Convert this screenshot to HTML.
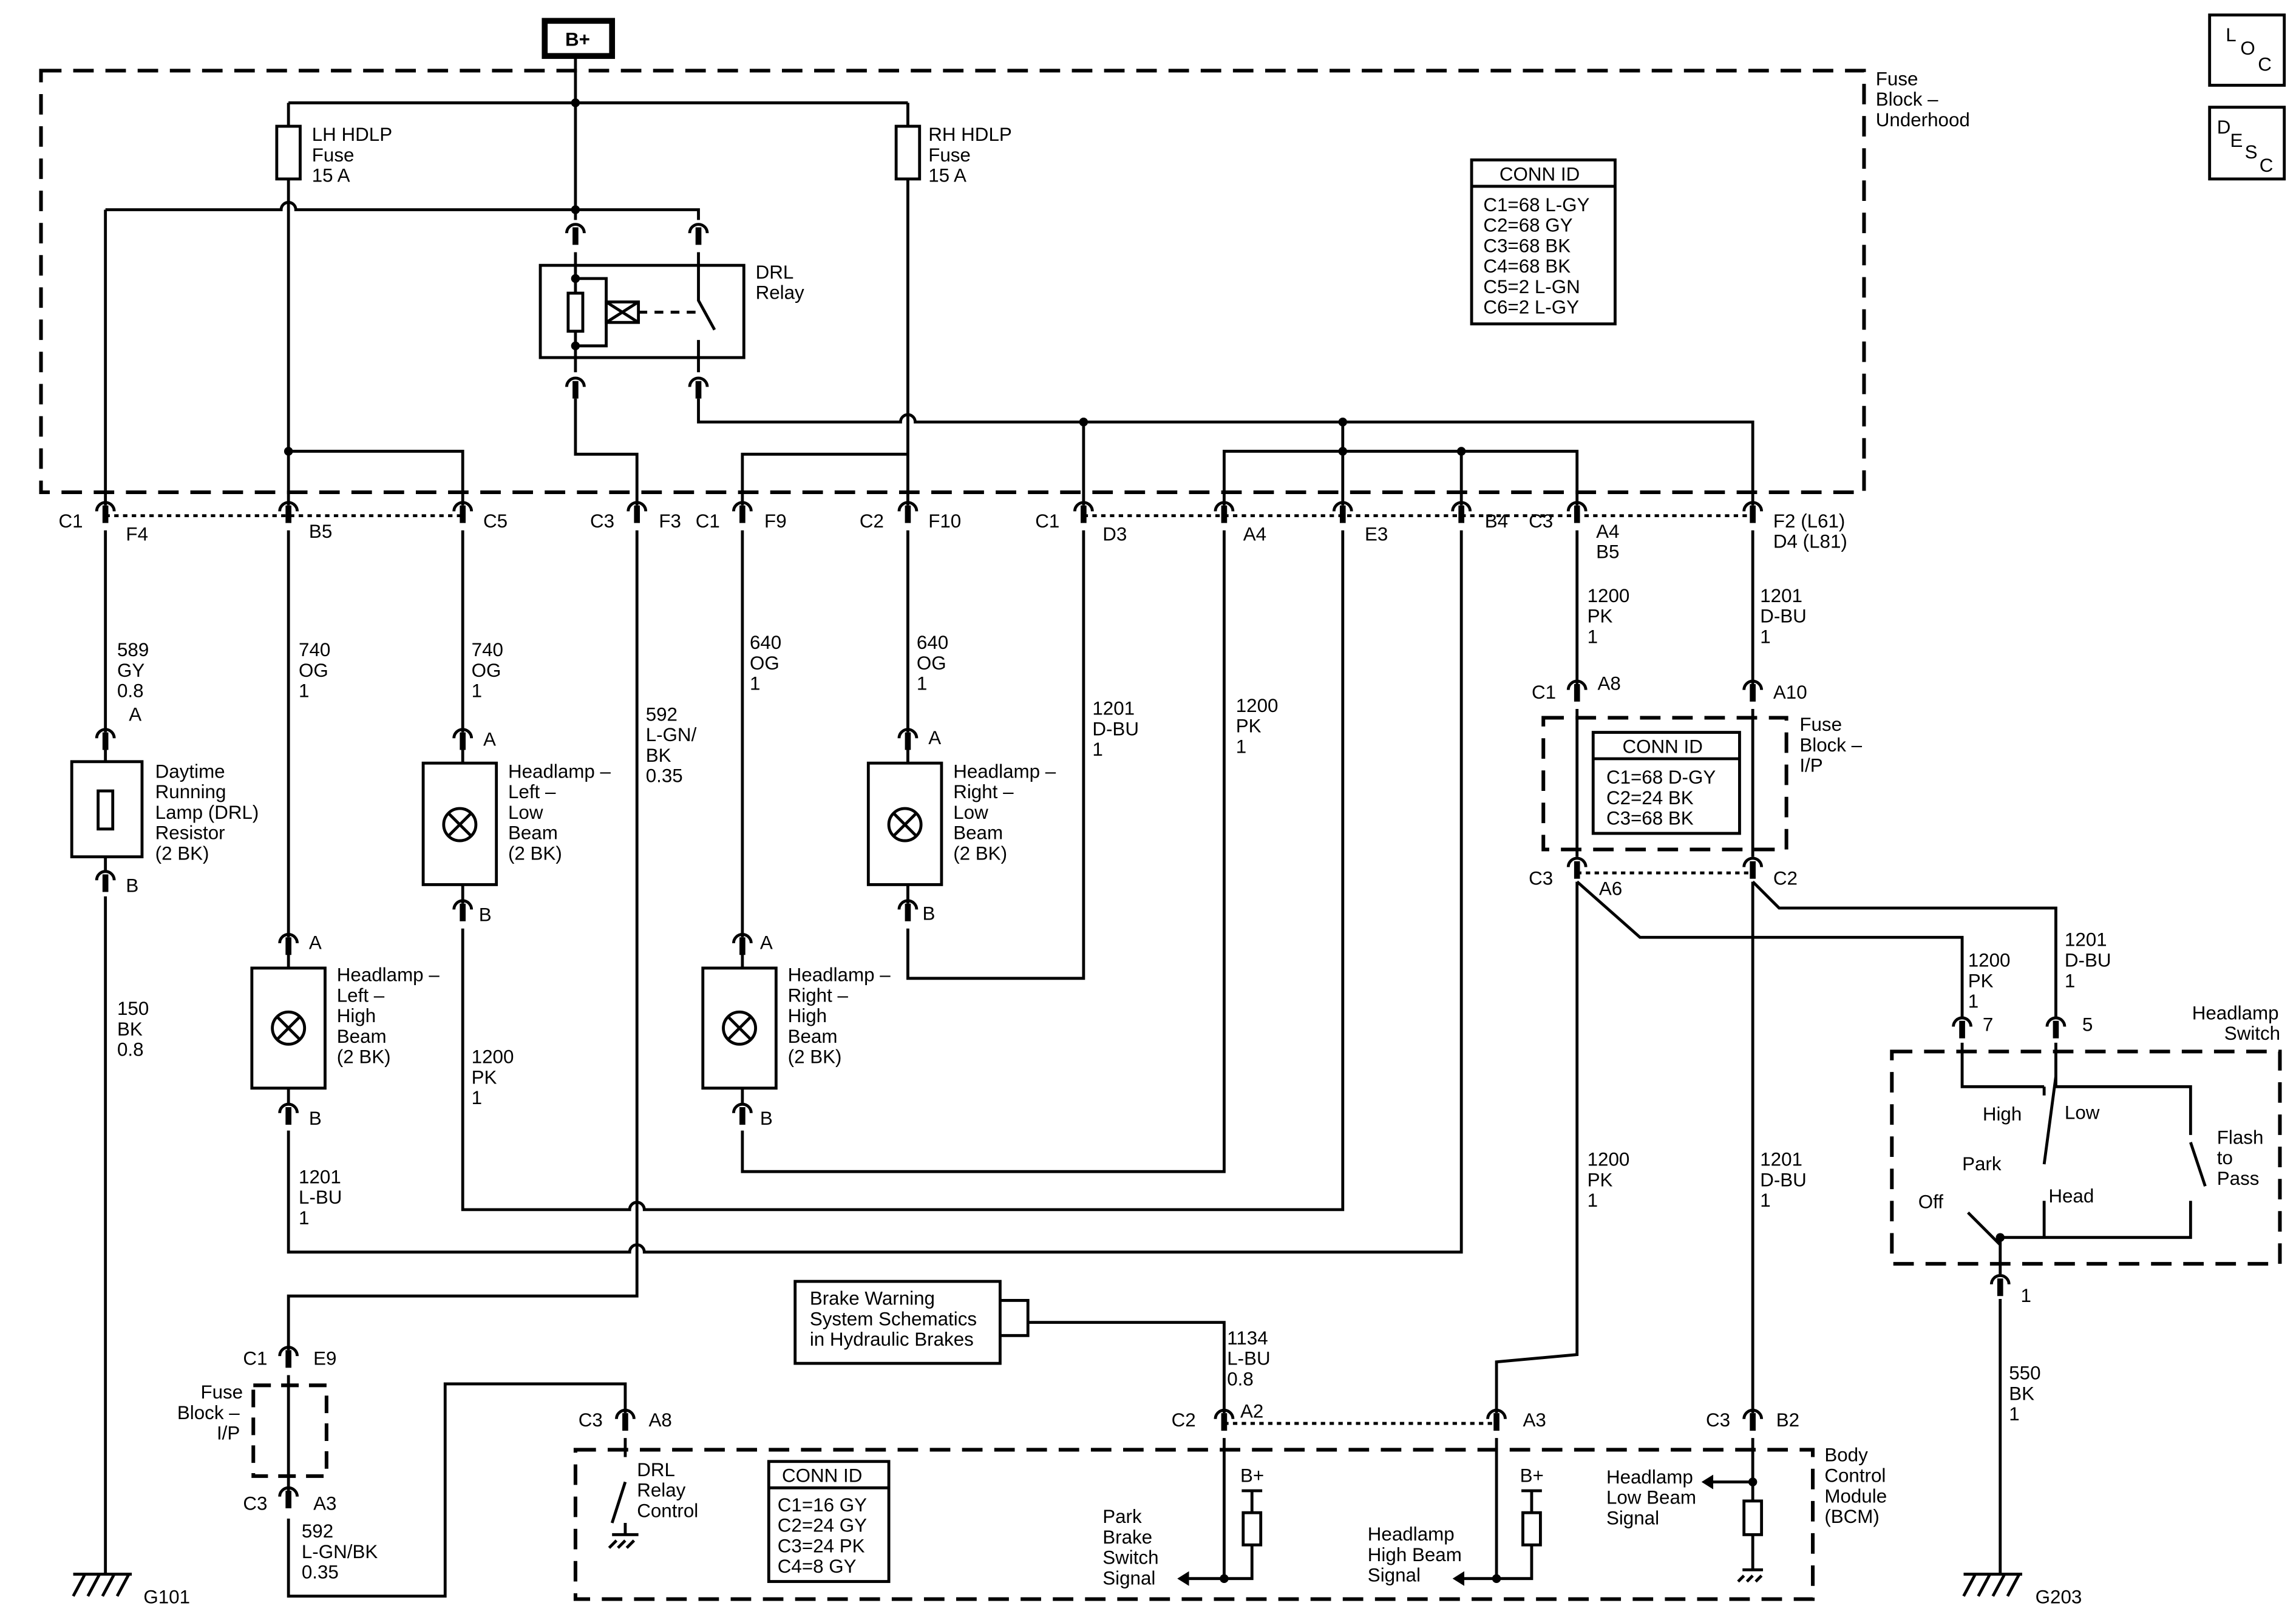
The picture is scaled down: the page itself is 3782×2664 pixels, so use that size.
<!DOCTYPE html>
<html><head><meta charset="utf-8"><style>
html,body{margin:0;padding:0;background:#fff}
svg{display:block}
text{font-family:"Liberation Sans",Arial,sans-serif;font-size:13px;fill:#000}
</style></head><body>
<svg width="3782" height="2664" viewBox="0 0 1568 1104" xmlns="http://www.w3.org/2000/svg">
<defs>
<g id="cn"><path d="M-6 4 A6 6 0 0 1 6 4" fill="none" stroke="#000" stroke-width="2"/><line x1="0" y1="0" x2="0" y2="12" stroke="#000" stroke-width="4"/></g>
</defs>
<rect width="1568" height="1104" fill="#fff"/>
<g fill="none" stroke="#000" stroke-width="2">
<rect x="28" y="48" width="1245" height="288" stroke-dasharray="14 8" stroke-width="2.5"/>
<rect x="1054" y="490" width="166" height="90" stroke-dasharray="14 8" stroke-width="2.5"/>
<rect x="173" y="946" width="50" height="62" stroke-dasharray="12 7" stroke-width="2.5"/>
<rect x="393" y="990" width="845" height="102" stroke-dasharray="14 8" stroke-width="2.5"/>
<rect x="1292" y="718" width="265" height="145" stroke-dasharray="14 8" stroke-width="2.5"/>
<line x1="72" y1="352" x2="316" y2="352" stroke-dasharray="3 3"/>
<line x1="740" y1="352" x2="1197" y2="352" stroke-dasharray="3 3"/>
<line x1="1077" y1="596" x2="1197" y2="596" stroke-dasharray="3 3"/>
<line x1="836" y1="972" x2="1022" y2="972" stroke-dasharray="3 3"/>
<rect x="372" y="14" width="46" height="24" stroke-width="4"/>
<path d="M393 38 V150 M197 70 H620"/>
<rect x="189" y="86" width="16" height="36" fill="#fff"/>
<rect x="612" y="86" width="16" height="36" fill="#fff"/>
<path d="M197 70 V86 M197 122 V345"/>
<path d="M620 70 V86 M620 122 V345"/>
<path d="M72 143 H192 A5 5 0 0 1 202 143 H393 M393 143 H477 V150 M72 143 V345"/>
<rect x="369" y="181" width="139" height="63"/>
<path d="M393 172 V254 M477 172 V205 L488 225 M477 232 V254"/>
<path d="M393 190 H414 V236 H393"/>
<rect x="388" y="200" width="10" height="26" fill="#fff"/>
<rect x="414" y="206" width="22" height="14"/>
<path d="M414 206 L436 220 M436 206 L414 220"/>
<path d="M436 213 H480" stroke-dasharray="6 5"/>
<path d="M393 272 V310 H435 V345"/>
<path d="M477 272 V288 H615 A5 5 0 0 1 625 288 H1197 V345"/>
<path d="M740 288 V345 M917 288 V308 M836 345 V308 H1077 V345 M917 308 V345 M998 308 V345"/>
<path d="M197 308 H316 V345 M507 345 V310 H620"/>
<path d="M72 362 V500 M72 612 V1075"/>
<rect x="49" y="520" width="48" height="65"/>
<path d="M72 510 V520 M72 585 V595"/>
<rect x="67" y="540" width="10" height="26" fill="#fff"/>
<path d="M197 362 V640 M197 772 V855 H430 A5 5 0 0 1 440 855 H998 V362"/>
<path d="M316 362 V500 M316 634 V826 H430 A5 5 0 0 1 440 826 H917 V362"/>
<path d="M435 362 V885 H197 V922 M197 939 V1020 M197 1037 V1090 H304 V945 H427 V965"/>
<path d="M507 362 V640 M507 772 V800 H836 V362"/>
<path d="M620 362 V500 M620 634 V668 H740 V362"/>
<path d="M1077 362 V467 M1197 362 V467"/>
<path d="M1077 484 V585 M1197 484 V585"/>
<path d="M1077 602 V925 L1022 930 V965 M1077 602 L1120 640 H1340 V695"/>
<path d="M1197 602 V965 M1197 602 L1215 620 H1404 V695"/>
<path d="M683 888 H702 V912 H683 M702 903 H836 V965"/>
<rect x="543" y="875" width="140" height="56"/>
<rect x="172" y="661" width="50" height="82"/><circle cx="197" cy="702" r="11"/><path d="M189 694 L205 710 M205 694 L189 710 M197 651 V661 M197 743 V755"/>
<rect x="289" y="521" width="50" height="83"/><circle cx="314" cy="563" r="11"/><path d="M306 555 L322 571 M322 555 L306 571 M316 510 V521 M316 604 V617"/>
<rect x="480" y="661" width="50" height="82"/><circle cx="505" cy="702" r="11"/><path d="M497 694 L513 710 M513 694 L497 710 M507 651 V661 M507 743 V755"/>
<rect x="593" y="521" width="50" height="83"/><circle cx="618" cy="563" r="11"/><path d="M610 555 L626 571 M626 555 L610 571 M620 510 V521 M620 604 V617"/>
<path d="M427 982 V995 M427 1012 L418 1040 M427 1040 V1048 M418 1048 H436 M421 1052 L416 1057 M427 1052 L422 1057 M433 1052 L428 1057"/>
<path d="M836 982 V1078 H812 M855 1018 V1033 M855 1055 V1078 H836"/>
<rect x="849" y="1033" width="12" height="22"/>
<path d="M848 1018 H862"/>
<path d="M1022 982 V1078 H1000 M1046 1018 V1033 M1046 1055 V1078 H1022"/>
<rect x="1040" y="1033" width="12" height="22"/>
<path d="M1039 1018 H1053"/>
<path d="M1197 982 V1012 H1170 M1197 1012 V1025 M1197 1048 V1072"/>
<rect x="1191" y="1025" width="12" height="23"/>
<path d="M1190 1072 H1204 M1191 1076 L1187 1080 M1197 1076 L1193 1080 M1203 1076 L1199 1080"/>
<path d="M1340 712 V742 H1396 M1404 712 V742 H1496 V775 M1396 742 V748 M1404 735 L1396 795 M1396 820 V845 M1496 780 L1506 810 M1496 820 V845 H1366 M1366 850 L1344 828 M1366 843 V870 M1366 887 V1075"/>
<path d="M50 1075 H90 M58 1075 L50 1090 M68 1075 L60 1090 M78 1075 L70 1090 M88 1075 L80 1090"/>
<path d="M1341 1075 H1381 M1349 1075 L1341 1090 M1359 1075 L1351 1090 M1369 1075 L1361 1090 M1379 1075 L1371 1090"/>
<rect x="1509" y="10" width="51" height="48"/>
<rect x="1509" y="73" width="51" height="49"/>
<rect x="1005" y="109" width="98" height="112"/><path d="M1005 127 H1103"/>
<rect x="1088" y="500" width="100" height="69"/><path d="M1088 518 H1188"/>
<rect x="525" y="998" width="82" height="82"/><path d="M525 1016 H607"/>
</g>
<g fill="#000"><circle cx="393" cy="70" r="3"/><circle cx="393" cy="143" r="3"/><circle cx="740" cy="288" r="3"/><circle cx="917" cy="288" r="3"/><circle cx="917" cy="308" r="3"/><circle cx="998" cy="308" r="3"/><circle cx="197" cy="308" r="3"/><circle cx="393" cy="190" r="3"/><circle cx="393" cy="236" r="3"/><circle cx="1366" cy="845" r="3"/><circle cx="836" cy="1078" r="3"/><circle cx="1022" cy="1078" r="3"/><circle cx="1197" cy="1012" r="3"/>
<path d="M812 1073 L804 1078 L812 1083Z M1000 1073 L992 1078 L1000 1083Z M1170 1007 L1162 1012 L1170 1017Z"/></g>
<g>
<use href="#cn" x="72" y="345"/><use href="#cn" x="197" y="345"/><use href="#cn" x="316" y="345"/><use href="#cn" x="435" y="345"/><use href="#cn" x="507" y="345"/><use href="#cn" x="620" y="345"/><use href="#cn" x="740" y="345"/><use href="#cn" x="836" y="345"/><use href="#cn" x="917" y="345"/><use href="#cn" x="998" y="345"/><use href="#cn" x="1077" y="345"/><use href="#cn" x="1197" y="345"/>
<use href="#cn" x="393" y="155"/><use href="#cn" x="477" y="155"/><use href="#cn" x="393" y="260"/><use href="#cn" x="477" y="260"/>
<use href="#cn" x="72" y="500"/><use href="#cn" x="72" y="597"/><use href="#cn" x="316" y="500"/><use href="#cn" x="316" y="617"/><use href="#cn" x="620" y="500"/><use href="#cn" x="620" y="617"/>
<use href="#cn" x="197" y="640"/><use href="#cn" x="197" y="756"/><use href="#cn" x="507" y="640"/><use href="#cn" x="507" y="756"/>
<use href="#cn" x="1077" y="467"/><use href="#cn" x="1197" y="467"/><use href="#cn" x="1077" y="588"/><use href="#cn" x="1197" y="588"/>
<use href="#cn" x="1340" y="697"/><use href="#cn" x="1404" y="697"/><use href="#cn" x="1366" y="873"/>
<use href="#cn" x="197" y="922"/><use href="#cn" x="197" y="1018"/>
<use href="#cn" x="427" y="965"/><use href="#cn" x="836" y="965"/><use href="#cn" x="1022" y="965"/><use href="#cn" x="1197" y="965"/>
</g>
<g>
<text x="386" y="31" font-weight="bold">B+</text>
<text x="1281" y="58">Fuse</text><text x="1281" y="72">Block –</text><text x="1281" y="86">Underhood</text>
<text x="213" y="96">LH HDLP</text><text x="213" y="110">Fuse</text><text x="213" y="124">15 A</text>
<text x="634" y="96">RH HDLP</text><text x="634" y="110">Fuse</text><text x="634" y="124">15 A</text>
<text x="516" y="190">DRL</text><text x="516" y="204">Relay</text>
<text x="1024" y="123">CONN ID</text>
<text x="1013" y="144">C1=68 L-GY</text><text x="1013" y="158">C2=68 GY</text><text x="1013" y="172">C3=68 BK</text><text x="1013" y="186">C4=68 BK</text><text x="1013" y="200">C5=2 L-GN</text><text x="1013" y="214">C6=2 L-GY</text>
<text x="1520" y="28" font-size="11">L</text><text x="1530" y="37" font-size="11">O</text><text x="1542" y="48" font-size="11">C</text>
<text x="1514" y="91" font-size="11">D</text><text x="1523" y="100" font-size="11">E</text><text x="1533" y="108" font-size="11">S</text><text x="1543" y="117" font-size="11">C</text>
<text x="40" y="360">C1</text><text x="86" y="369">F4</text><text x="211" y="367">B5</text><text x="330" y="360">C5</text>
<text x="403" y="360">C3</text><text x="450" y="360">F3</text><text x="475" y="360">C1</text><text x="522" y="360">F9</text>
<text x="587" y="360">C2</text><text x="634" y="360">F10</text><text x="707" y="360">C1</text><text x="753" y="369">D3</text>
<text x="849" y="369">A4</text><text x="932" y="369">E3</text><text x="1014" y="360">B4</text><text x="1044" y="360">C3</text>
<text x="1090" y="367">A4</text><text x="1090" y="381">B5</text><text x="1211" y="360">F2 (L61)</text><text x="1211" y="374">D4 (L81)</text>
<text x="80" y="448">589</text><text x="80" y="462">GY</text><text x="80" y="476">0.8</text>
<text x="204" y="448">740</text><text x="204" y="462">OG</text><text x="204" y="476">1</text>
<text x="322" y="448">740</text><text x="322" y="462">OG</text><text x="322" y="476">1</text>
<text x="441" y="492">592</text><text x="441" y="506">L-GN/</text><text x="441" y="520">BK</text><text x="441" y="534">0.35</text>
<text x="512" y="443">640</text><text x="512" y="457">OG</text><text x="512" y="471">1</text>
<text x="626" y="443">640</text><text x="626" y="457">OG</text><text x="626" y="471">1</text>
<text x="746" y="488">1201</text><text x="746" y="502">D-BU</text><text x="746" y="516">1</text>
<text x="844" y="486">1200</text><text x="844" y="500">PK</text><text x="844" y="514">1</text>
<text x="1084" y="411">1200</text><text x="1084" y="425">PK</text><text x="1084" y="439">1</text>
<text x="1202" y="411">1201</text><text x="1202" y="425">D-BU</text><text x="1202" y="439">1</text>
<text x="1046" y="477">C1</text><text x="1091" y="471">A8</text><text x="1211" y="477">A10</text>
<text x="1229" y="499">Fuse</text><text x="1229" y="513">Block –</text><text x="1229" y="527">I/P</text>
<text x="1108" y="514">CONN ID</text>
<text x="1097" y="535">C1=68 D-GY</text><text x="1097" y="549">C2=24 BK</text><text x="1097" y="563">C3=68 BK</text>
<text x="1044" y="604">C3</text><text x="1092" y="611">A6</text><text x="1211" y="604">C2</text>
<text x="88" y="492">A</text><text x="86" y="609">B</text><text x="330" y="509">A</text><text x="327" y="629">B</text>
<text x="634" y="508">A</text><text x="630" y="628">B</text><text x="211" y="648">A</text><text x="211" y="768">B</text><text x="519" y="648">A</text><text x="519" y="768">B</text>
<text x="106" y="531">Daytime</text><text x="106" y="545">Running</text><text x="106" y="559">Lamp (DRL)</text><text x="106" y="573">Resistor</text><text x="106" y="587">(2 BK)</text>
<text x="347" y="531">Headlamp –</text><text x="347" y="545">Left –</text><text x="347" y="559">Low</text><text x="347" y="573">Beam</text><text x="347" y="587">(2 BK)</text>
<text x="651" y="531">Headlamp –</text><text x="651" y="545">Right –</text><text x="651" y="559">Low</text><text x="651" y="573">Beam</text><text x="651" y="587">(2 BK)</text>
<text x="230" y="670">Headlamp –</text><text x="230" y="684">Left –</text><text x="230" y="698">High</text><text x="230" y="712">Beam</text><text x="230" y="726">(2 BK)</text>
<text x="538" y="670">Headlamp –</text><text x="538" y="684">Right –</text><text x="538" y="698">High</text><text x="538" y="712">Beam</text><text x="538" y="726">(2 BK)</text>
<text x="80" y="693">150</text><text x="80" y="707">BK</text><text x="80" y="721">0.8</text>
<text x="322" y="726">1200</text><text x="322" y="740">PK</text><text x="322" y="754">1</text>
<text x="204" y="808">1201</text><text x="204" y="822">L-BU</text><text x="204" y="836">1</text>
<text x="1344" y="660">1200</text><text x="1344" y="674">PK</text><text x="1344" y="688">1</text>
<text x="1410" y="646">1201</text><text x="1410" y="660">D-BU</text><text x="1410" y="674">1</text>
<text x="1354" y="704">7</text><text x="1422" y="704">5</text>
<text x="1497" y="696">Headlamp</text><text x="1519" y="710">Switch</text>
<text x="1354" y="765">High</text><text x="1410" y="764">Low</text><text x="1514" y="781">Flash</text><text x="1514" y="795">to</text><text x="1514" y="809">Pass</text>
<text x="1340" y="799">Park</text><text x="1310" y="825">Off</text><text x="1399" y="821">Head</text>
<text x="1380" y="889">1</text>
<text x="1084" y="796">1200</text><text x="1084" y="810">PK</text><text x="1084" y="824">1</text>
<text x="1202" y="796">1201</text><text x="1202" y="810">D-BU</text><text x="1202" y="824">1</text>
<text x="1372" y="942">550</text><text x="1372" y="956">BK</text><text x="1372" y="970">1</text>
<text x="553" y="891">Brake Warning</text><text x="553" y="905">System Schematics</text><text x="553" y="919">in Hydraulic Brakes</text>
<text x="838" y="918">1134</text><text x="838" y="932">L-BU</text><text x="838" y="946">0.8</text>
<text x="166" y="932">C1</text><text x="214" y="932">E9</text>
<text x="137" y="955">Fuse</text><text x="121" y="969">Block –</text><text x="148" y="983">I/P</text>
<text x="166" y="1031">C3</text><text x="214" y="1031">A3</text>
<text x="206" y="1050">592</text><text x="206" y="1064">L-GN/BK</text><text x="206" y="1078">0.35</text>
<text x="395" y="974">C3</text><text x="443" y="974">A8</text><text x="800" y="974">C2</text><text x="847" y="968">A2</text>
<text x="1040" y="974">A3</text><text x="1165" y="974">C3</text><text x="1213" y="974">B2</text>
<text x="1246" y="998">Body</text><text x="1246" y="1012">Control</text><text x="1246" y="1026">Module</text><text x="1246" y="1040">(BCM)</text>
<text x="435" y="1008">DRL</text><text x="435" y="1022">Relay</text><text x="435" y="1036">Control</text>
<text x="534" y="1012">CONN ID</text>
<text x="531" y="1032">C1=16 GY</text><text x="531" y="1046">C2=24 GY</text><text x="531" y="1060">C3=24 PK</text><text x="531" y="1074">C4=8 GY</text>
<text x="847" y="1012">B+</text><text x="1038" y="1012">B+</text>
<text x="753" y="1040">Park</text><text x="753" y="1054">Brake</text><text x="753" y="1068">Switch</text><text x="753" y="1082">Signal</text>
<text x="934" y="1052">Headlamp</text><text x="934" y="1066">High Beam</text><text x="934" y="1080">Signal</text>
<text x="1097" y="1013">Headlamp</text><text x="1097" y="1027">Low Beam</text><text x="1097" y="1041">Signal</text>
<text x="98" y="1095">G101</text><text x="1390" y="1095">G203</text>
</g>
</svg>
</body></html>
